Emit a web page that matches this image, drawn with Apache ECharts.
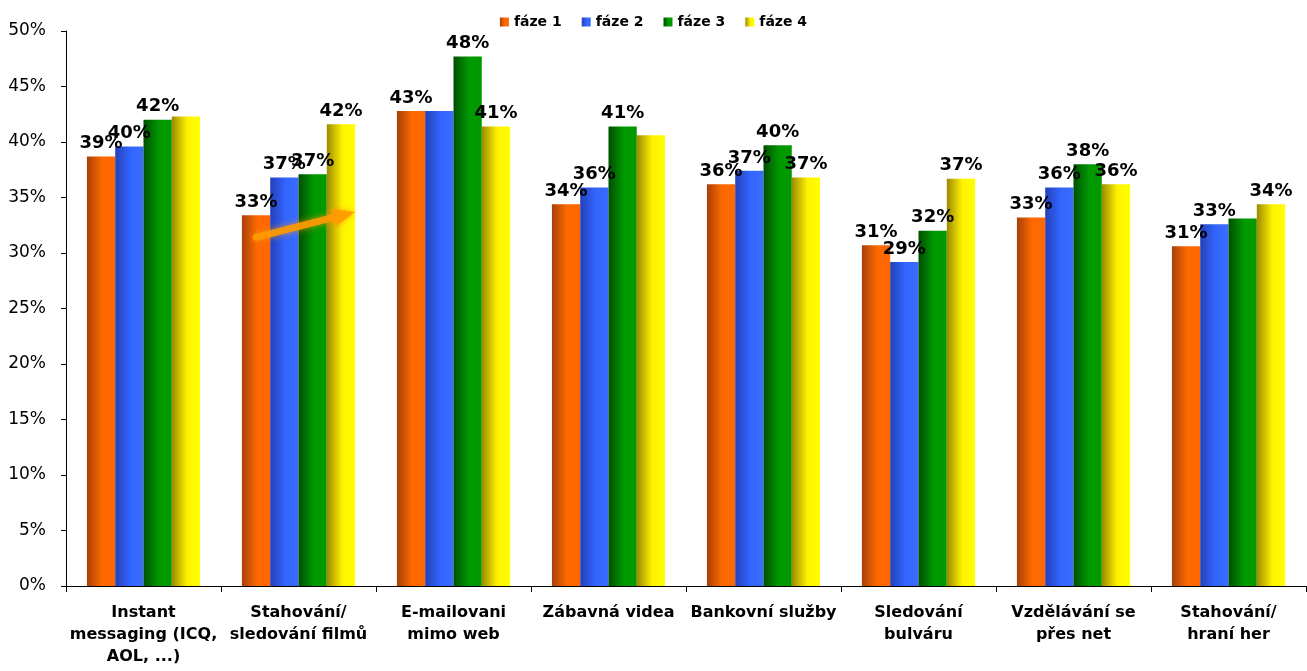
<!DOCTYPE html>
<html>
<head>
<meta charset="utf-8">
<script src="https://cdn.jsdelivr.net/npm/echarts@6/dist/echarts.min.js"></script>
<style>
html,body{margin:0;padding:0;background:#fff;}
#chart{width:1307px;height:671px;}
</style>
</head>
<body>
<div id="chart"></div>
<script>
const categories = [
  'Instant\nmessaging (ICQ,\nAOL, ...)',
  'Stahování/\nsledování filmů',
  'E-mailovani\nmimo web',
  'Zábavná videa',
  'Bankovní služby',
  'Sledování\nbulváru',
  'Vzdělávání se\npřes net',
  'Stahování/\nhraní her'
];
const seriesNames = ['fáze 1', 'fáze 2', 'fáze 3', 'fáze 4'];
const faze1 = [38.7, 33.4, 42.8, 34.4, 36.2, 30.7, 33.2, 30.6];
const faze2 = [39.6, 36.8, 42.8, 35.9, 37.4, 29.2, 35.9, 32.6];
const faze3 = [42.0, 37.1, 47.7, 41.4, 39.7, 32.0, 38.0, 33.1];
const faze4 = [42.3, 41.6, 41.4, 40.6, 36.8, 36.7, 36.2, 34.4];
const yTicks = [0, 5, 10, 15, 20, 25, 30, 35, 40, 45, 50];
// labels that are not shown in the original (series index -> category indexes)
const hiddenLabels = [[], [2], [7], [0, 3]];

const allValues = [faze1, faze2, faze3, faze4];
const gradients = [
  ['#a84008', '#ff6a00', '#ff6600'],
  ['#2440b8', '#3366ff', '#3a6cff'],
  ['#004f00', '#009900', '#009a00'],
  ['#9c8a00', '#fff200', '#ffff00']
];
function grad(c) {
  return new echarts.graphic.LinearGradient(0, 0, 1, 0, [
    {offset: 0, color: c[0]}, {offset: 0.55, color: c[1]}, {offset: 1, color: c[2]}
  ]);
}
const FONT = 'DejaVu Sans';

const chart = echarts.init(document.getElementById('chart'), null, {renderer: 'canvas'});
const series = allValues.map((vals, si) => ({
  name: seriesNames[si],
  type: 'bar',
  barGap: '0%',
  barCategoryGap: '27%',
  itemStyle: {color: grad(gradients[si])},
  label: {
    show: true,
    position: 'top',
    distance: 4,
    color: '#000',
    fontFamily: FONT,
    fontWeight: 'bold',
    fontSize: 18,
    formatter: p => Math.round(p.value) + '%'
  },
  data: vals.map((v, ci) => hiddenLabels[si].includes(ci) ? {value: v, label: {show: false}} : v)
}));

chart.setOption({
  animation: false,
  backgroundColor: '#fff',
  grid: {left: 66, right: 1, top: 31, bottom: 85, containLabel: false},
  legend: {
    top: 10,
    left: 'center',
    itemWidth: 9,
    itemHeight: 9,
    itemGap: 20,
    icon: 'rect',
    textStyle: {fontFamily: FONT, fontWeight: 'bold', fontSize: 14, color: '#000'},
    data: seriesNames
  },
  xAxis: {
    type: 'category',
    data: categories,
    axisLine: {lineStyle: {color: '#000', width: 1}},
    axisTick: {show: true, length: 6, lineStyle: {color: '#000'}, alignWithLabel: false},
    axisLabel: {
      interval: 0,
      margin: 16,
      color: '#000',
      fontFamily: FONT,
      fontWeight: 'bold',
      fontSize: 16,
      lineHeight: 22
    }
  },
  yAxis: {
    type: 'value',
    min: yTicks[0],
    max: yTicks[yTicks.length - 1],
    interval: 5,
    axisLine: {show: true, lineStyle: {color: '#000', width: 1}},
    axisTick: {show: true, length: 5, lineStyle: {color: '#000'}},
    splitLine: {show: false},
    axisLabel: {
      margin: 20,
      color: '#000',
      fontFamily: FONT,
      fontSize: 17,
      formatter: v => v + '%'
    }
  },
  series: series
});

// decorative orange arrow over the second category
(function () {
  const c = chart.convertToPixel({xAxisIndex: 0, yAxisIndex: 0}, [1, 31.4]);
  const e = chart.convertToPixel({xAxisIndex: 0, yAxisIndex: 0}, [1, 33.7]);
  const catW = chart.convertToPixel({xAxisIndex: 0}, 1) - chart.convertToPixel({xAxisIndex: 0}, 0);
  const bw = catW * 0.73 / 4;
  const x1 = c[0] - 1.5 * bw, y1 = c[1];
  const x2 = e[0] + 2 * bw, y2 = e[1];
  const ang = Math.atan2(y2 - y1, x2 - x1);
  const headL = 22, headW = 9;
  const bx = x2 - headL * Math.cos(ang), by = y2 - headL * Math.sin(ang);
  const nx = -Math.sin(ang), ny = Math.cos(ang);
  chart.setOption({
    graphic: [
      {
        type: 'line', z: 100,
        shape: {x1: x1, y1: y1, x2: bx, y2: by},
        style: {stroke: '#ff9a00', lineWidth: 7, lineCap: 'round', shadowBlur: 6, shadowColor: 'rgba(255,150,0,0.8)', opacity: 0.9}
      },
      {
        type: 'polygon', z: 100,
        shape: {points: [[x2, y2], [bx + nx * headW, by + ny * headW], [bx - nx * headW, by - ny * headW]]},
        style: {fill: '#ff9a00', shadowBlur: 6, shadowColor: 'rgba(255,150,0,0.8)', opacity: 0.9}
      }
    ]
  });
})();
</script>
</body>
</html>
